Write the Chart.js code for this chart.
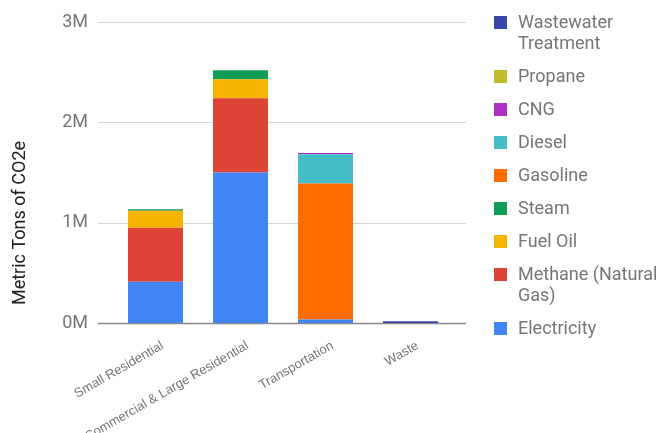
<!DOCTYPE html>
<html>
<head>
<meta charset="utf-8">
<script src="https://cdn.jsdelivr.net/npm/chart.js@4/dist/chart.umd.min.js"></script>
<style>
  html, body { margin: 0; padding: 0; background: #fff; }
  #wrap { position: relative; width: 659px; height: 433px; }
  #legend { position: absolute; left: 494px; top: 11px; font-family: Roboto, sans-serif; font-size: 18px; color: #757575; }
  .item { display: flex; align-items: flex-start; margin-bottom: 12px; line-height: 21px; }
  .box { width: 13px; height: 13px; margin-top: 5px; margin-right: 11px; flex: none; }
  .txt { width: 142px; white-space: normal; }
</style>
</head>
<body>
<div id="wrap">
  <canvas id="chart" width="659" height="433"></canvas>
  <div id="legend"></div>
</div>
<script>
// sectores (eje x)
const categorias = ['Small Residential', 'Commercial & Large Residential', 'Transportation', 'Waste'];

// valores en millones de toneladas CO2e
const electricidad = [0.41, 1.50, 0.034, 0];
const metano = [0.54, 0.74, 0, 0];
const fuelOil = [0.17, 0.19, 0, 0];
const vapor = [0.013, 0.09, 0, 0];
const gasolina = [0, 0, 1.357, 0];
const diesel = [0, 0, 0.29, 0];
const gnc = [0, 0, 0.013, 0];
const propano = [0, 0, 0, 0];
const aguasResiduales = [0, 0, 0, 0.017];

const yTicks = [0, 1, 2, 3];

const series = [
  { label: 'Electricity', data: electricidad, color: '#4285F4' },
  { label: 'Methane (Natural Gas)', data: metano, color: '#DB4437' },
  { label: 'Fuel Oil', data: fuelOil, color: '#F4B400' },
  { label: 'Steam', data: vapor, color: '#0F9D58' },
  { label: 'Gasoline', data: gasolina, color: '#FF6D00' },
  { label: 'Diesel', data: diesel, color: '#46BDC6' },
  { label: 'CNG', data: gnc, color: '#AB30C4' },
  { label: 'Propane', data: propano, color: '#C0BC2A' },
  { label: 'Wastewater Treatment', data: aguasResiduales, color: '#3949AB' }
];

// lineas de la grilla: en el original pasan 15px mas alla del area de barras
const grilla = {
  id: 'grilla',
  beforeDatasetsDraw(chart) {
    const c = chart.ctx;
    const y = chart.scales.y;
    const area = chart.chartArea;
    c.save();
    yTicks.forEach(v => {
      const py = Math.round(y.getPixelForValue(v)) + 0.5;
      c.strokeStyle = v === 0 ? '#888' : '#d6d6d6';
      c.lineWidth = v === 0 ? 1.5 : 1;
      c.beginPath();
      c.moveTo(area.left - 15, py);
      c.lineTo(area.right + 13, py);
      c.stroke();
    });
    c.restore();
  },
  afterDraw(chart) {
    // titulo del eje y dibujado a mano para centrarlo como en el original
    const c = chart.ctx;
    c.save();
    c.translate(20, 223);
    c.rotate(-Math.PI / 2);
    c.font = '18px Roboto, sans-serif';
    c.fillStyle = '#222';
    c.textAlign = 'center';
    c.textBaseline = 'middle';
    c.fillText('Metric Tons of CO2e', 0, 0);
    c.restore();
  }
};

const chart = new Chart(document.getElementById('chart'), {
  type: 'bar',
  data: {
    labels: categorias,
    datasets: series.map(s => ({
      label: s.label,
      data: s.data,
      backgroundColor: s.color,
      borderWidth: 0,
      barPercentage: 0.647,
      categoryPercentage: 1
    }))
  },
  options: {
    responsive: false,
    animation: false,
    layout: { padding: { top: 22, right: 206, left: 0, bottom: 0 } },
    plugins: {
      legend: { display: false },
      tooltip: { enabled: false }
    },
    scales: {
      x: {
        stacked: true,
        grid: { display: false },
        border: { display: false },
        ticks: {
          minRotation: 30,
          maxRotation: 30,
          labelOffset: 7,
          padding: 7,
          color: '#757575',
          font: { family: 'Liberation Sans, Arial, sans-serif', size: 13 }
        },
        afterFit(scale) { scale.height = 110; }
      },
      y: {
        stacked: true,
        min: 0,
        max: yTicks[yTicks.length - 1],
        afterBuildTicks(scale) { scale.ticks = yTicks.map(v => ({ value: v })); },
        border: { display: false },
        grid: { display: false, drawTicks: false },
        ticks: {
          padding: 25,
          color: '#757575',
          font: { family: 'Roboto, sans-serif', size: 18 },
          callback: v => v + 'M'
        },
        afterFit(scale) {
          scale.width = 113;
          scale.paddingTop = 0;
          scale.paddingBottom = 0;
        }
      }
    }
  },
  plugins: [grilla]
});

// leyenda en html, en orden inverso como el original
const legend = document.getElementById('legend');
series.slice().reverse().forEach(s => {
  const item = document.createElement('div');
  item.className = 'item';
  item.innerHTML = '<span class="box" style="background:' + s.color + '"></span><span class="txt">' + s.label + '</span>';
  legend.appendChild(item);
});
</script>
</body>
</html>
